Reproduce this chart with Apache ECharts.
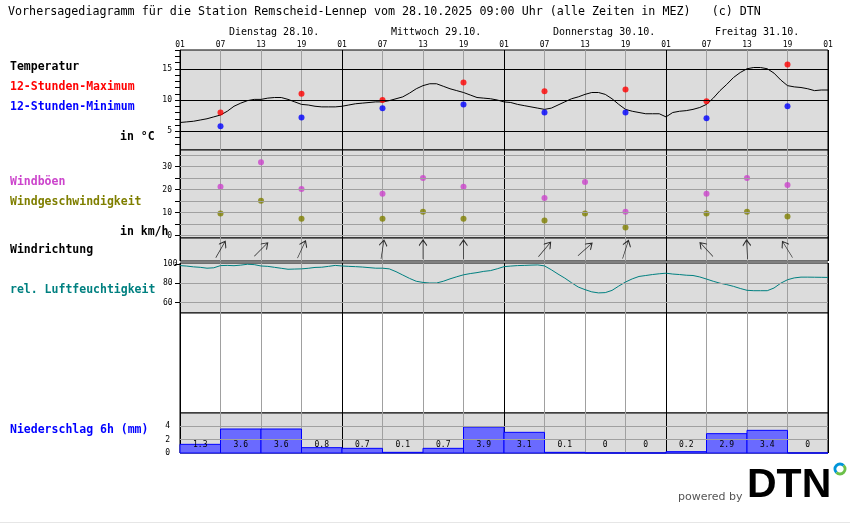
<!DOCTYPE html>
<html><head><meta charset="utf-8">
<script src="https://cdn.jsdelivr.net/npm/echarts@6/dist/echarts.min.js"></script>
<style>html,body{margin:0;padding:0;background:#fff}#c{width:850px;height:524px}</style>
</head><body><div id="c"></div>
<script>
// ---------- DATA ----------
const titleText = 'Vorhersagediagramm für die Station Remscheid-Lennep vom 28.10.2025 09:00 Uhr (alle Zeiten in MEZ)   (c) DTN';
const dayLabels = ['Dienstag 28.10.', 'Mittwoch 29.10.', 'Donnerstag 30.10.', 'Freitag 31.10.'];
const hourTickLabels = ['01', '07', '13', '19'];
// hourly temperature, hour 0 = 28.10. 01:00
const temperature = [
  6.4,6.5,6.6,6.8,7.0,7.3,7.6,8.2,9.0,9.5,
  9.9,10.1,10.1,10.3,10.4,10.4,10.1,9.7,9.3,9.2,
  9.0,8.9,8.9,8.9,9.0,9.2,9.4,9.5,9.6,9.7,
  9.7,9.9,10.2,10.5,11.1,11.8,12.3,12.6,12.6,12.2,
  11.8,11.5,11.2,10.8,10.4,10.3,10.2,10.0,9.7,9.6,
  9.3,9.1,8.9,8.7,8.5,8.7,9.2,9.7,10.2,10.5,
  10.9,11.2,11.2,10.9,10.2,9.3,8.5,8.2,8.0,7.8,
  7.8,7.8,7.3,8.0,8.2,8.3,8.5,8.8,9.3,10.3,
  11.5,12.5,13.6,14.4,15.0,15.2,15.2,15.0,14.3,13.2,
  12.3,12.1,12.0,11.8,11.5,11.6,11.6
];
const humidity = [
  98.3,97.8,97.0,96.5,95.6,96.0,98.3,98.5,98.2,98.8,
  99.7,99.3,97.9,97.5,96.5,95.5,94.5,94.7,94.9,95.5,
  96.4,96.6,97.5,98.5,97.9,97.5,97.2,96.8,96.2,95.6,
  95.6,94.9,92.0,88.5,85.0,82.0,80.8,80.2,80.2,82.0,
  84.5,86.7,88.7,90.0,91.0,92.3,93.1,95.0,97.2,97.8,
  98.3,98.5,98.8,99.0,98.0,94.0,89.5,85.3,80.5,76.0,
  73.3,71.0,69.9,70.2,72.5,77.0,81.2,84.5,87.0,88.0,
  89.0,89.8,90.4,89.5,89.0,88.3,88.0,86.5,84.3,82.0,
  80.0,78.5,76.7,74.5,72.6,72.2,72.2,72.2,75.0,80.0,
  83.6,85.5,86.3,86.3,86.2,86.1,86.0
];
const extremeHours = [6, 18, 30, 42, 54, 66, 78, 90];
const tempMax = [8.0, 11.0, 10.0, 12.8, 11.4, 11.7, 9.8, 15.7];
const tempMin = [5.8, 7.2, 8.7, 9.3, 8.0, 8.0, 7.1, 9.0];
const windHours = [6, 12, 18, 30, 36, 42, 54, 60, 66, 78, 84, 90];
const windGust = [21.2, 31.9, 20.3, 18.2, 25.0, 21.2, 16.4, 23.3, 10.4, 18.2, 25.0, 22.0];
const windSpeed = [9.6, 15.2, 7.4, 7.4, 10.4, 7.4, 6.6, 9.6, 3.6, 9.6, 10.4, 8.3];
const windDirection = [210, 225, 205, 189, 180, 180, 220, 228, 198, 137, 177, 148]; // degrees, wind from
const precip6h = [1.3, 3.6, 3.6, 0.8, 0.7, 0.1, 0.7, 3.9, 3.1, 0.1, 0, 0, 0.2, 2.9, 3.4, 0];
const tempTickLabels = [5, 10, 15];
const windTickLabels = [0, 10, 20, 30];
const humTickLabels = [60, 80, 100];
const precipTickLabels = [0, 2, 4];

// ---------- LAYOUT / STYLE ----------
const GL = 180, GW = 648;
const BG = '#dcdcdc', GRAY = '#a0a0a0';
const MONO = '"DejaVu Sans Mono", "Liberation Mono", monospace';
const panels = [
  {top: 50, height: 100, bg: BG},   // temperature
  {top: 150, height: 88, bg: BG},   // wind
  {top: 238, height: 23, bg: BG},   // wind direction
  {top: 263, height: 50, bg: BG},   // humidity
  {top: 313, height: 100, bg: '#fff'}, // empty
  {top: 413, height: 40, bg: BG}    // precipitation
];
const grids = panels.map(p => ({left: GL, width: GW, top: p.top, height: p.height, show: true,
  backgroundColor: p.bg, borderColor: '#000', borderWidth: 1, containLabel: false}));

const xAxes = panels.map((p, i) => ({
  type: 'value', gridIndex: i, min: 0, max: 96, interval: 6, position: 'top',
  axisLine: {show: false}, axisTick: {show: false},
  axisLabel: {show: i === 0, margin: 1, fontSize: 8, fontFamily: MONO, color: '#000',
    formatter: v => hourTickLabels[(v / 6) % 4]},
  splitLine: {show: true, lineStyle: {color: ['#000', GRAY, GRAY, GRAY], width: 1}}
}));

function yAx(i, min, max, labels, ticks, lab) {
  return {
    type: 'value', gridIndex: i, min, max,
    axisLine: {show: false}, splitLine: {show: false},
    axisLabel: Object.assign({show: !!labels, customValues: labels || [], fontSize: 8, fontFamily: MONO,
      color: '#000', margin: 8}, lab || {}),
    axisTick: {show: !!ticks, customValues: ticks || [], length: 5, lineStyle: {color: '#000'}}
  };
}
const range = (a, b, s) => { const r = []; for (let v = a; v <= b; v += s) r.push(v); return r; };
const yAxes = [
  yAx(0, 2, 18, tempTickLabels, range(3, 18, 1)),
  yAx(1, -1, 37.17, windTickLabels, range(0, 35, 5)),
  yAx(2, 0, 1, null, null),
  yAx(3, 49, 101, humTickLabels, humTickLabels, {align: 'left', margin: 17}),
  yAx(4, 0, 1, null, null),
  yAx(5, 0, 6, precipTickLabels, null, {margin: 10})
];

function hLines(values, color) {
  return {silent: true, symbol: ['none', 'none'], animation: false,
    label: {show: false}, lineStyle: {color, type: 'solid', width: 1},
    emphasis: {disabled: true}, data: values.map(v => ({yAxis: v}))};
}

const hours = temperature.map((_, i) => i);
const arrowPath = 'path://M4,0L4,20M0,6L4,0L8,6';

const series = [
  {type: 'line', xAxisIndex: 0, yAxisIndex: 0, data: hours.map(h => [h, temperature[h]]),
   showSymbol: false, lineStyle: {color: '#000', width: 1}, z: 3,
   markLine: hLines(tempTickLabels, '#000')},
  {type: 'scatter', xAxisIndex: 0, yAxisIndex: 0, data: extremeHours.map((h, i) => [h, tempMax[i]]),
   symbol: 'circle', symbolSize: 6, itemStyle: {color: '#ff0000'}, z: 4},
  {type: 'scatter', xAxisIndex: 0, yAxisIndex: 0, data: extremeHours.map((h, i) => [h, tempMin[i]]),
   symbol: 'circle', symbolSize: 6, itemStyle: {color: '#0000ff'}, z: 4},
  {type: 'scatter', xAxisIndex: 1, yAxisIndex: 1, data: windHours.map((h, i) => [h, windGust[i]]),
   symbol: 'circle', symbolSize: 6, itemStyle: {color: '#cc44cc'}, z: 4,
   markLine: hLines(range(0, 35, 5), GRAY)},
  {type: 'scatter', xAxisIndex: 1, yAxisIndex: 1, data: windHours.map((h, i) => [h, windSpeed[i]]),
   symbol: 'circle', symbolSize: 6, itemStyle: {color: '#7f7f00'}, z: 4},
  {type: 'scatter', xAxisIndex: 2, yAxisIndex: 2,
   data: windHours.map((h, i) => ({value: [h, 0.5], symbolRotate: -((windDirection[i] + 180) % 360)})),
   symbol: arrowPath, symbolSize: [8, 19],
   itemStyle: {color: 'rgba(0,0,0,0)', borderColor: '#000', borderWidth: 1}, z: 4},
  {type: 'line', xAxisIndex: 3, yAxisIndex: 3, data: hours.map(h => [h, humidity[h]]),
   showSymbol: false, lineStyle: {color: '#008080', width: 1}, z: 3,
   markLine: hLines([60, 80], GRAY)},
  {type: 'line', xAxisIndex: 5, yAxisIndex: 5, data: [], showSymbol: false,
   markLine: hLines([2, 4], GRAY)},
  {type: 'custom', xAxisIndex: 5, yAxisIndex: 5, z: 4,
   data: precip6h.map((v, i) => [i * 6, i * 6 + 6, v]),
   renderItem: (params, api) => {
     const s = api.value(0), e = api.value(1), v = api.value(2);
     const p0 = api.coord([s, v]), p1 = api.coord([e, 0]);
     const c = api.coord([(s + e) / 2, 0]);
     return {type: 'group', children: [
       {type: 'rect', shape: {x: p0[0], y: p0[1], width: p1[0] - p0[0], height: p1[1] - p0[1]},
        style: {fill: '#6a6aff', stroke: '#0000ff', lineWidth: 1}},
       {type: 'text', x: c[0], y: c[1] - 8,
        style: {text: String(v), fill: '#000', font: '8px ' + MONO, align: 'center', verticalAlign: 'middle'}}
     ]};
   }}
];

const sideLabels = [
  ['Temperatur', 10, 67, '#000'],
  ['12-Stunden-Maximum', 10, 87, '#ff0000'],
  ['12-Stunden-Minimum', 10, 107, '#0000ff'],
  ['in °C', 120, 137, '#000'],
  ['Windböen', 10, 182, '#cc44cc'],
  ['Windgeschwindigkeit', 10, 202, '#7f7f00'],
  ['in km/h', 120, 232, '#000'],
  ['Windrichtung', 10, 250, '#000'],
  ['rel. Luftfeuchtigkeit', 10, 290, '#008080'],
  ['Niederschlag 6h (mm)', 10, 430, '#0000ff']
];
const graphics = [
  {type: 'text', x: 8, y: 12, style: {text: titleText, font: '11.7px ' + MONO, fill: '#000', verticalAlign: 'middle'}},
  ...dayLabels.map((t, i) => ({type: 'text', x: GL + (i * 24 + 7.25) * GW / 96, y: 32,
    style: {text: t, font: '10px ' + MONO, fill: '#000', verticalAlign: 'middle'}})),
  ...sideLabels.map(([t, x, y, c]) => ({type: 'text', x, y,
    style: {text: t, font: 'bold 11.5px ' + MONO, fill: c, verticalAlign: 'middle'}})),
  {type: 'text', x: 678, y: 497, style: {text: 'powered by', font: '11px "DejaVu Sans", sans-serif', fill: '#555', verticalAlign: 'middle'}},
  {type: 'text', x: 747, y: 486, style: {text: 'DTN', font: 'bold 41px "Liberation Sans", Arial, sans-serif', fill: '#000', verticalAlign: 'middle'}},
  {type: 'arc', shape: {cx: 840, cy: 469, r: 5, startAngle: Math.PI * 0.75, endAngle: Math.PI * 1.75}, style: {stroke: '#0095d9', lineWidth: 3, fill: null}},
  {type: 'arc', shape: {cx: 840, cy: 469, r: 5, startAngle: -Math.PI * 0.25, endAngle: Math.PI * 0.75}, style: {stroke: '#6cc04a', lineWidth: 3, fill: null}},
  {type: 'line', shape: {x1: 0, y1: 522.5, x2: 850, y2: 522.5}, style: {stroke: '#e6e6e6', lineWidth: 1}}
];

const chart = echarts.init(document.getElementById('c'), null, {renderer: 'canvas'});
chart.setOption({
  animation: false,
  backgroundColor: '#fff',
  grid: grids,
  xAxis: xAxes,
  yAxis: yAxes,
  series,
  graphic: graphics
});
</script>
</body></html>
